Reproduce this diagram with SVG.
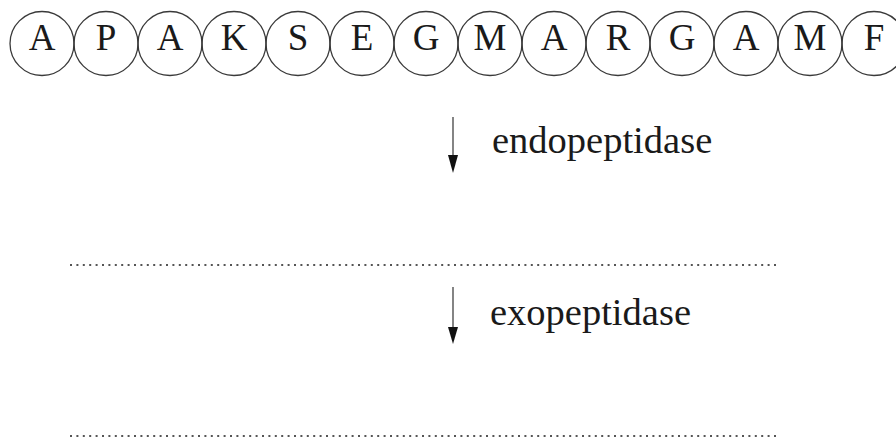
<svg xmlns="http://www.w3.org/2000/svg" width="896" height="439" viewBox="0 0 896 439">
<defs>
<style>
.res circle{fill:none;stroke:#3a3a3a;stroke-width:1.3}
.res text{font-size:37px;fill:#1a1a1a;text-anchor:middle}
.lbl{font-size:38.5px;fill:#1a1a1a}
.shaft{stroke:#666;stroke-width:1.6}
.head{fill:#111}
.dots{stroke:#555;stroke-width:2;stroke-dasharray:2 4.4}
</style>
</defs>
<rect width="896" height="439" fill="#fff"/>
<g id="peptide" class="res" font-family="'Liberation Serif', 'Times New Roman', Tinos, 'DejaVu Serif', serif">
<g id="r1"><circle cx="42" cy="43.5" r="32"/><text x="42" y="50">A</text></g>
<g id="r2"><circle cx="106" cy="43.5" r="32"/><text x="106" y="50">P</text></g>
<g id="r3"><circle cx="170" cy="43.5" r="32"/><text x="170" y="50">A</text></g>
<g id="r4"><circle cx="234" cy="43.5" r="32"/><text x="234" y="50">K</text></g>
<g id="r5"><circle cx="298" cy="43.5" r="32"/><text x="298" y="50">S</text></g>
<g id="r6"><circle cx="362" cy="43.5" r="32"/><text x="362" y="50">E</text></g>
<g id="r7"><circle cx="426" cy="43.5" r="32"/><text x="426" y="50">G</text></g>
<g id="r8"><circle cx="490" cy="43.5" r="32"/><text x="490" y="50">M</text></g>
<g id="r9"><circle cx="554" cy="43.5" r="32"/><text x="554" y="50">A</text></g>
<g id="r10"><circle cx="618" cy="43.5" r="32"/><text x="618" y="50">R</text></g>
<g id="r11"><circle cx="682" cy="43.5" r="32"/><text x="682" y="50">G</text></g>
<g id="r12"><circle cx="746" cy="43.5" r="32"/><text x="746" y="50">A</text></g>
<g id="r13"><circle cx="810" cy="43.5" r="32"/><text x="810" y="50">M</text></g>
<g id="r14"><circle cx="874" cy="43.5" r="32"/><text x="874" y="50">F</text></g>
</g>
<g id="connectors">
<line class="shaft" x1="453" y1="117" x2="453" y2="157"/>
<polygon class="head" points="448,155 458,155 453,173"/>
<line class="shaft" x1="453" y1="287" x2="453" y2="329"/>
<polygon class="head" points="448,327 458,327 453,344"/>
</g>
<g id="label-endo" font-family="'Liberation Serif', 'Times New Roman', Tinos, 'DejaVu Serif', serif"><text class="lbl" x="492" y="153">endopeptidase</text></g>
<g id="label-exo" font-family="'Liberation Serif', 'Times New Roman', Tinos, 'DejaVu Serif', serif"><text class="lbl" x="490" y="325">exopeptidase</text></g>
<g id="divider1"><line class="dots" x1="70" y1="265" x2="779" y2="265"/></g>
<g id="divider2"><line class="dots" x1="70" y1="436" x2="779" y2="436"/></g>
</svg>
